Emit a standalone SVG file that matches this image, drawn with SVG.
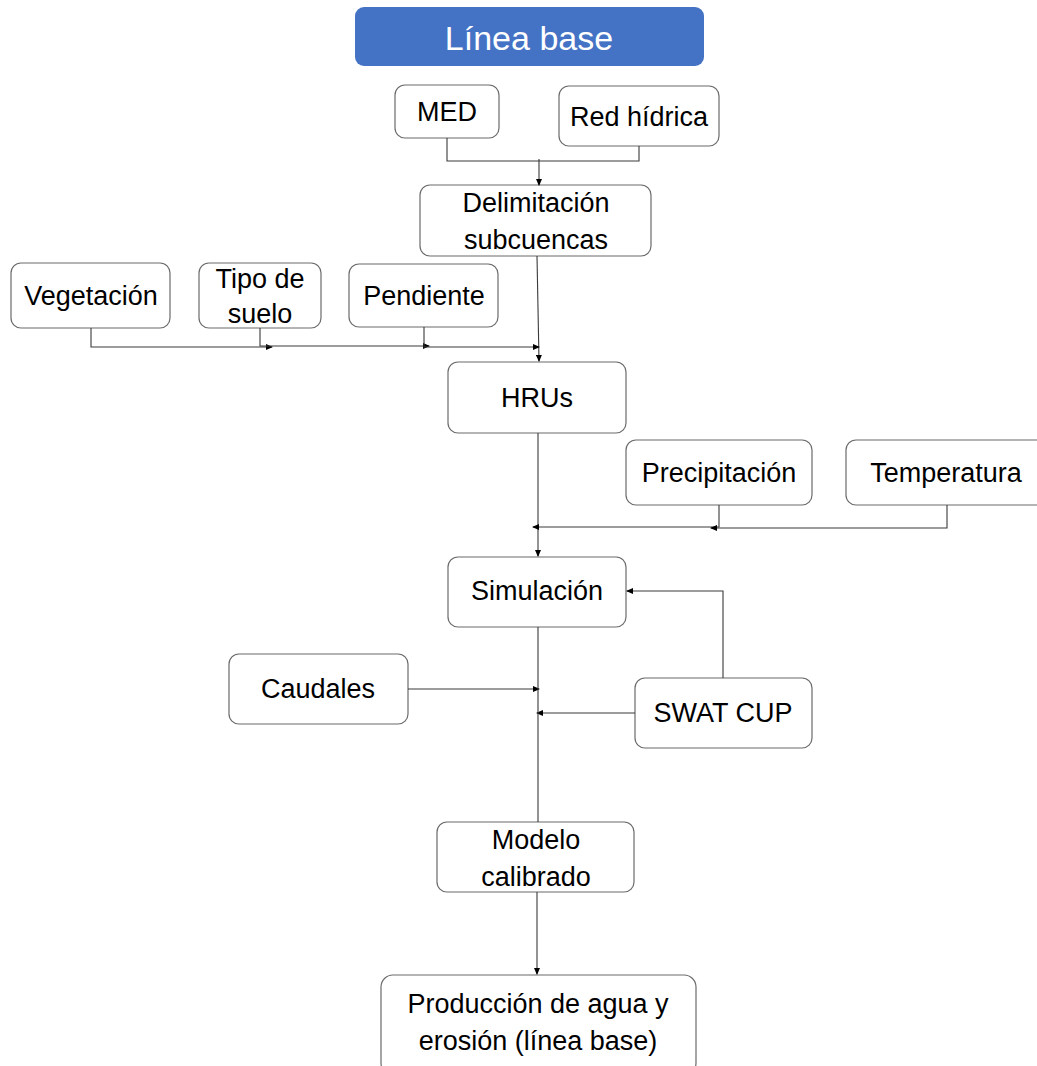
<svg xmlns="http://www.w3.org/2000/svg" width="1037" height="1066" viewBox="0 0 1037 1066">
<style>
.box{fill:#fff;stroke:#6b6b6b;stroke-width:1.2}
.t{font-family:"Liberation Sans",Arial,sans-serif;font-size:27px;fill:#000;text-anchor:middle}
.c{fill:none;stroke:#3a3a3a;stroke-width:1.1}
</style>
<defs>
<marker id="ah" markerWidth="7" markerHeight="6" refX="6" refY="3" orient="auto" markerUnits="userSpaceOnUse">
<path d="M0,0 L7,3 L0,6 Z" fill="#000"/>
</marker>
</defs>
<rect width="1037" height="1066" fill="#fff"/>
<g id="title">
<rect x="355" y="7" width="349" height="59" rx="9" fill="#4472C4"/>
<text x="529" y="50" font-family="Liberation Sans,Arial,sans-serif" font-size="34" fill="#fff" text-anchor="middle">Línea base</text>
</g>
<g id="med"><rect class="box" x="395" y="85" width="104" height="53" rx="10"/><text class="t" x="447" y="121">MED</text></g>
<g id="red"><rect class="box" x="559" y="86" width="160" height="60" rx="10"/><text class="t" x="639" y="126">Red hídrica</text></g>
<g id="delim"><rect class="box" x="420" y="185" width="231" height="71" rx="10"/><text class="t" x="536" y="212">Delimitación</text><text class="t" x="536" y="249">subcuencas</text></g>
<g id="veg"><rect class="box" x="11" y="263" width="159" height="65" rx="10"/><text class="t" x="91" y="305">Vegetación</text></g>
<g id="suelo"><rect class="box" x="199" y="263" width="122" height="65" rx="10"/><text class="t" x="260" y="288">Tipo de</text><text class="t" x="260" y="323">suelo</text></g>
<g id="pend"><rect class="box" x="349" y="264" width="149" height="63" rx="10"/><text class="t" x="424" y="305">Pendiente</text></g>
<g id="hrus"><rect class="box" x="448" y="362" width="178" height="71" rx="10"/><text class="t" x="537" y="407">HRUs</text></g>
<g id="prec"><rect class="box" x="626" y="440" width="186" height="65" rx="10"/><text class="t" x="719" y="482">Precipitación</text></g>
<g id="temp"><rect class="box" x="846" y="440" width="204" height="65" rx="10"/><text class="t" x="946" y="482">Temperatura</text></g>
<g id="sim"><rect class="box" x="448" y="557" width="178" height="70" rx="10"/><text class="t" x="537" y="600">Simulación</text></g>
<g id="caud"><rect class="box" x="229" y="654" width="179" height="70" rx="10"/><text class="t" x="318" y="698">Caudales</text></g>
<g id="swat"><rect class="box" x="635" y="678" width="177" height="70" rx="10"/><text class="t" x="723" y="722">SWAT CUP</text></g>
<g id="modelo"><rect class="box" x="437" y="822" width="197" height="70" rx="10"/><text class="t" x="536" y="849">Modelo</text><text class="t" x="536" y="886">calibrado</text></g>
<g id="prod"><rect class="box" x="381" y="975" width="315" height="100" rx="12"/><text class="t" x="538" y="1013">Producción de agua y</text><text class="t" x="538" y="1050">erosión (línea base)</text></g>
<g id="connectors">
<path class="c" d="M447,138 V161 H639 V146"/>
<path class="c" d="M539,159 V185" marker-end="url(#ah)"/>
<path class="c" d="M537,256 L539,361" marker-end="url(#ah)"/>
<path class="c" d="M91,328 V347 H272" marker-end="url(#ah)"/>
<path class="c" d="M260,328 V346 H429" marker-end="url(#ah)"/>
<path class="c" d="M424,327 V347 H539" marker-end="url(#ah)"/>
<path class="c" d="M538,433 V556" marker-end="url(#ah)"/>
<path class="c" d="M719,505 V527 H533" marker-end="url(#ah)"/>
<path class="c" d="M947,505 V528 H711" marker-end="url(#ah)"/>
<path class="c" d="M723,678 V591 H627" marker-end="url(#ah)"/>
<path class="c" d="M635,713 H537" marker-end="url(#ah)"/>
<path class="c" d="M408,689 H539" marker-end="url(#ah)"/>
<path class="c" d="M538,627 V822"/>
<path class="c" d="M537,892 V974" marker-end="url(#ah)"/>
</g>
</svg>
